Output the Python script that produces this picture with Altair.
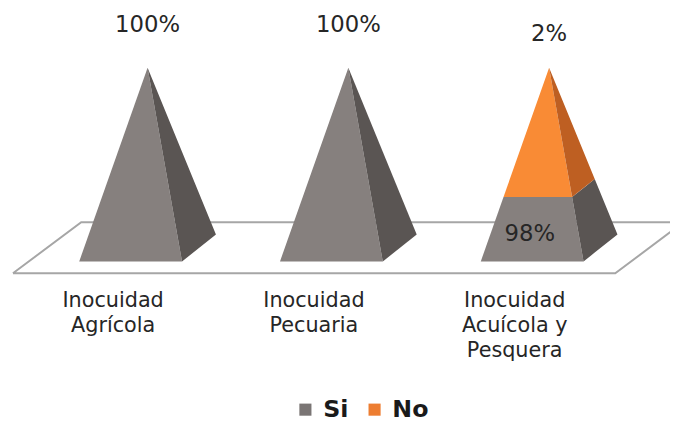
import altair as alt
import pandas as pd

# ---- data ----
category_lines = [["Inocuidad", "Agrícola"],
                  ["Inocuidad", "Pecuaria"],
                  ["Inocuidad", "Acuícola y", "Pesquera"]]
series = ["Si", "No"]
si_values = [100, 100, 98]
no_values = [0, 0, 2]
si_labels = ["100%", "100%", "98%"]
no_labels = ["", "", "2%"]
# share of the pyramid height drawn in grey (as drawn in the reference)
si_height_share = [1.0, 1.0, 0.333]

# ---- pseudo-3D geometry (category units / value units) ----
HALF_W = 0.256
DEPTH_X = 0.169
DEPTH_Y = 13.9
X_DOMAIN = [-0.6107, 2.6866]
Y_DOMAIN = [-81.6, 129.6]

FRONT_COLORS = ["#86807E", "#F98B35"]
SIDE_COLORS = ["#5A5553", "#BE5F22"]
LEGEND_COLORS = ["#7A7574", "#ED7D31"]


def lerp(p, q, t):
    return (p[0] + (q[0] - p[0]) * t, p[1] + (q[1] - p[1]) * t)


def polygon_rows(pid, serie, verts):
    eps = 1e-9
    xs = sorted(set(round(v[0], 9) for v in verts))
    rows = []
    n = len(verts)
    for x in xs:
        ys = []
        for k in range(n):
            p, q = verts[k], verts[(k + 1) % n]
            lo, hi = min(p[0], q[0]), max(p[0], q[0])
            if lo - eps <= x <= hi + eps:
                if abs(q[0] - p[0]) < eps:
                    ys += [p[1], q[1]]
                else:
                    ys.append(p[1] + (q[1] - p[1]) * (x - p[0]) / (q[0] - p[0]))
        rows.append({"poly": pid, "serie": serie, "x": x, "y": max(ys), "y2": min(ys)})
    return rows


front_rows, side_rows = [], []
si_text, no_text = [], []
for i in range(len(category_lines)):
    c = float(i)
    total = si_values[i] + no_values[i]
    A = (c + DEPTH_X / 2, total)
    FL, FR, BR = (c - HALF_W, 0.0), (c + HALF_W, 0.0), (c + HALF_W + DEPTH_X, DEPTH_Y)
    t = si_height_share[i]
    if t >= 1:
        front_rows += polygon_rows(f"f{i}s", "Si", [FL, FR, A])
        side_rows += polygon_rows(f"s{i}s", "Si", [A, FR, BR])
        si_text.append({"x": A[0], "y": total + 22, "label": si_labels[i]})
    else:
        Lt, Rt = lerp(FL, A, t), lerp(FR, A, t)
        Ft, Bt = lerp(FR, A, t), lerp(BR, A, t)
        front_rows += polygon_rows(f"f{i}s", "Si", [FL, FR, Rt, Lt])
        front_rows += polygon_rows(f"f{i}n", "No", [Lt, Rt, A])
        side_rows += polygon_rows(f"s{i}s", "Si", [FR, BR, Bt, Ft])
        side_rows += polygon_rows(f"s{i}n", "No", [Ft, Bt, A])
        si_text.append({"x": c - 0.012, "y": total * t * 0.43, "label": si_labels[i]})
        no_text.append({"x": A[0], "y": total + 17.5, "label": no_labels[i]})

cat_text = []
for i, lines in enumerate(category_lines):
    for k, line in enumerate(lines):
        cat_text.append({"x": i - 0.087, "y": -20.4 - 13.0 * k, "label": line})

# floor plane outline
fl_front_y, fl_back_y = -6.1, 20.3
fl_left, fl_right, fl_dx = -0.586, 2.414, 0.34
floor_df = pd.DataFrame([
    {"o": 0, "x": fl_left, "y": fl_front_y},
    {"o": 1, "x": fl_right, "y": fl_front_y},
    {"o": 2, "x": fl_right + fl_dx, "y": fl_back_y},
    {"o": 3, "x": fl_left + fl_dx, "y": fl_back_y},
    {"o": 4, "x": fl_left, "y": fl_front_y},
])

xs = alt.Scale(domain=X_DOMAIN, nice=False, zero=False)
ys = alt.Scale(domain=Y_DOMAIN, nice=False, zero=False)
X = alt.X("x:Q", scale=xs, axis=None)
Y = alt.Y("y:Q", scale=ys, axis=None)

floor = alt.Chart(floor_df).mark_line(color="#A6A6A6", strokeWidth=2, clip=True).encode(
    x=X, y=Y, order="o:Q")

# legend drawn from a small table of the two series
legend_src = alt.Chart(pd.DataFrame({"serie": series, "x": [0.0, 0.0], "y": [0.0, 0.0]})).mark_point(
    opacity=0, size=0).encode(
    x=X, y=Y,
    fill=alt.Fill("serie:N", scale=alt.Scale(domain=series, range=LEGEND_COLORS),
                  legend=alt.Legend(title=None, orient="none", direction="horizontal",
                                    legendX=289, legendY=392, padding=0,
                                    symbolType="square", symbolSize=150,
                                    symbolStrokeWidth=0, symbolOpacity=1,
                                    labelFont="DejaVu Sans", labelFontSize=24,
                                    labelFontWeight="bold", labelColor="#1a1a1a",
                                    labelOffset=6, columnPadding=14)))

front = alt.Chart(pd.DataFrame(front_rows)).mark_area(strokeWidth=0).encode(
    x=X, y=Y, y2="y2:Q", detail="poly:N",
    color=alt.Color("serie:N", scale=alt.Scale(domain=series, range=FRONT_COLORS), legend=None))

side = alt.Chart(pd.DataFrame(side_rows)).mark_area(strokeWidth=0).encode(
    x=X, y=Y, y2="y2:Q", detail="poly:N",
    color=alt.Color("serie:N", scale=alt.Scale(domain=series, range=SIDE_COLORS), legend=None))

text_style = dict(font="DejaVu Sans", fontSize=23, color="#262626", baseline="middle", align="center")
si_t = alt.Chart(pd.DataFrame(si_text)).mark_text(**text_style).encode(x=X, y=Y, text="label:N")
no_t = alt.Chart(pd.DataFrame(no_text)).mark_text(**text_style).encode(x=X, y=Y, text="label:N")
cat_t = alt.Chart(pd.DataFrame(cat_text)).mark_text(
    font="DejaVu Sans", fontSize=21, color="#262626", baseline="middle", align="center"
).encode(x=X, y=Y, text="label:N")

chart = alt.layer(floor, legend_src, front, side, si_t, no_t, cat_t).resolve_scale(
    color="independent", fill="independent").properties(
    width=670, height=414, padding=0,
    autosize=alt.AutoSizeParams(type="none")
).configure_view(strokeWidth=0)

chart.save("out.html", embed_options={"renderer": "svg", "actions": False})
